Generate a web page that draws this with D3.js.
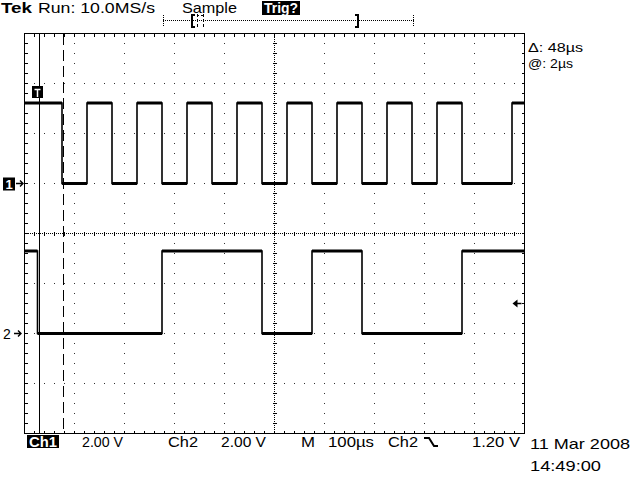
<!DOCTYPE html>
<html><head><meta charset="utf-8">
<script src="https://cdn.jsdelivr.net/npm/d3@7"></script>
<style>
body{margin:0;background:#fff}
svg{display:block}
text{font-family:"Liberation Sans",Arial,sans-serif;fill:#000}
</style>
</head><body>
<svg id="c" width="640" height="480"></svg>
<script>
// ---------------- data ----------------
const timeDomain = [-27, 973];          // µs across 10 divisions (100 µs/div)
const voltsPerDiv = 2.0;
const ch1Offset = 1;                    // ground position, divisions from centre
const ch2Offset = -2;
const ch1Levels = [0, 3.22];            // low, high (V)
const ch2Levels = [0, 3.3];
const ch1StartHigh = true;
const ch1Edges = [48, 98, 148, 198, 248, 298, 348, 398, 448, 498, 548, 598, 648, 698, 748, 798, 848, 948];
const ch2StartHigh = true;
const ch2Edges = [-1, 248, 448, 548, 648, 848];
const cursorTimes = [1, 49];            // solid, dashed (µs)
const trigLevel = 1.20;                 // V on Ch2
const topLabels = ["Tek", "Run: 10.0MS/s", "Sample", "Trig?"];
const bottomLabels = ["Ch1", "2.00 V", "Ch2", "2.00 V", "M", "100\u00b5s", "Ch2", "1.20 V"];
const cursorLabels = ["\u0394: 48\u00b5s", "@: 2\u00b5s"];
const dateLabels = ["11 Mar 2008", "14:49:00"];

// ---------------- scales ----------------
const svg = d3.select("#c");
const L = 24.5, R = 524.5, T = 33.5, B = 433.5;
const X = d3.scaleLinear().domain(timeDomain).range([L, R]);
const Xdiv = d3.scaleLinear().domain([0, 10]).range([L, R]);
const Ydiv = d3.scaleLinear().domain([-4, 4]).range([B, T]);
const vy = (v, off) => Ydiv(v / voltsPerDiv + off);

// ---------------- graticule ----------------
const g = svg.append("g").attr("shape-rendering", "crispEdges");
const dots = [];
for (let k = 1; k < 10; k++) {
  if (k === 5) continue;
  for (let d = 1; d < 40; d++) dots.push([Xdiv(k), Ydiv(-4 + d * 0.2), "#333"]);
}
for (let j = -3; j <= 3; j++) {
  if (j === 0) continue;
  for (let d = 1; d < 50; d++) dots.push([Xdiv(d * 0.2), Ydiv(j), "#333"]);
}
for (let p = L + 2; p < R; p += 2) dots.push([p, Ydiv(0), "#000"]);
for (let p = T + 2; p < B; p += 2) dots.push([Xdiv(5), p, "#000"]);
g.selectAll("rect.dot").data(dots).join("rect").attr("class", "dot")
  .attr("x", d => Math.floor(d[0])).attr("y", d => Math.floor(d[1]))
  .attr("width", 1).attr("height", 1).attr("fill", d => d[2]);

const ticks = [];
for (let d = 1; d < 50; d++) { const x = Xdiv(d * 0.2); ticks.push([x, Ydiv(0) - 2, x, Ydiv(0) + 2]); }
for (let d = 1; d < 40; d++) { const y = Ydiv(-4 + d * 0.2); ticks.push([Xdiv(5) - 2, y, Xdiv(5) + 2, y]); }
for (let d = 1; d < 50; d++) {
  const x = Xdiv(d * 0.2);
  ticks.push([x, T, x, T + 3]); ticks.push([x, B - 3, x, B]);
}
for (let d = 1; d < 40; d++) {
  const y = Ydiv(-4 + d * 0.2);
  ticks.push([L, y, L + 3, y]); ticks.push([R - 3, y, R, y]);
}
g.selectAll("line.tk").data(ticks).join("line").attr("class", "tk")
  .attr("x1", d => d[0]).attr("y1", d => d[1]).attr("x2", d => d[2]).attr("y2", d => d[3])
  .attr("stroke", "#000").attr("stroke-width", 1);
g.append("rect").attr("x", L).attr("y", T).attr("width", R - L).attr("height", B - T)
  .attr("fill", "none").attr("stroke", "#000").attr("stroke-width", 1);

// ---------------- cursors ----------------
svg.append("line").attr("x1", Math.round(X(cursorTimes[0])) + 0.5).attr("x2", Math.round(X(cursorTimes[0])) + 0.5)
  .attr("y1", T).attr("y2", B).attr("stroke", "#000").attr("stroke-width", 1).attr("shape-rendering", "crispEdges");
svg.append("line").attr("x1", Math.round(X(cursorTimes[1])) + 0.5).attr("x2", Math.round(X(cursorTimes[1])) + 0.5)
  .attr("y1", T).attr("y2", B).attr("stroke", "#000").attr("stroke-width", 1)
  .attr("stroke-dasharray", "11,5").attr("shape-rendering", "crispEdges");

// ---------------- traces ----------------
function stepPoints(startHigh, edges, levels, off) {
  let hi = startHigh;
  const pts = [[X(timeDomain[0]), vy(levels[hi ? 1 : 0], off)]];
  const flats = [];
  let prev = timeDomain[0];
  edges.forEach(t => {
    const y0 = vy(levels[hi ? 1 : 0], off);
    flats.push([X(prev), X(t), y0]);
    pts.push([X(t), y0]);
    hi = !hi;
    pts.push([X(t), vy(levels[hi ? 1 : 0], off)]);
    prev = t;
  });
  const yEnd = vy(levels[hi ? 1 : 0], off);
  pts.push([X(timeDomain[1]), yEnd]);
  flats.push([X(prev), X(timeDomain[1]), yEnd]);
  return { pts, flats };
}
const line = d3.line();
[[ch1StartHigh, ch1Edges, ch1Levels, ch1Offset], [ch2StartHigh, ch2Edges, ch2Levels, ch2Offset]].forEach(c => {
  const s = stepPoints(...c);
  svg.append("path").attr("d", line(s.pts)).attr("fill", "none")
    .attr("stroke", "#000").attr("stroke-width", 1.6);
  svg.selectAll(null).data(s.flats).join("line")
    .attr("x1", d => d[0]).attr("x2", d => d[1]).attr("y1", d => d[2]).attr("y2", d => d[2])
    .attr("stroke", "#000").attr("stroke-width", 3);
});

// ---------------- markers ----------------
const tx = X(0);
svg.append("rect").attr("x", tx - 6).attr("y", 86).attr("width", 11).attr("height", 12).attr("fill", "#000");
svg.append("path").attr("d", `M${tx - 3.5},89.5 H${tx + 2.5} M${tx - 0.5},89.5 V97`).attr("stroke", "#fff").attr("stroke-width", 1.5).attr("fill", "none");

const g1 = vy(0, ch1Offset), g2 = vy(0, ch2Offset);
svg.append("rect").attr("x", 3).attr("y", g1 - 6).attr("width", 12).attr("height", 13).attr("fill", "#000");
svg.append("text").attr("x", 9).attr("y", g1 + 5).attr("text-anchor", "middle")
  .style("fill", "#fff").style("font-weight", "bold").style("font-size", "13px").text("1");
svg.append("text").attr("x", 3).attr("y", g2 + 5.5).style("font-size", "14px").text("2");
[g1, g2].forEach((gy, i) => {
  const x0 = i === 0 ? 16 : 14;
  svg.append("path").attr("d", `M${x0},${gy} H${x0 + 7} M${x0 + 4},${gy - 3} L${x0 + 7},${gy} L${x0 + 4},${gy + 3}`)
    .attr("stroke", "#000").attr("stroke-width", 1.4).attr("fill", "none");
});

const ty = vy(trigLevel, ch2Offset);
svg.append("path").attr("d", `M${R - 12},${ty} l5,-4 v8 Z`).attr("fill", "#000");
svg.append("line").attr("x1", R - 8).attr("x2", R - 3).attr("y1", ty).attr("y2", ty).attr("stroke", "#000").attr("stroke-width", 1.5);

// ---------------- record bar ----------------
const rb = svg.append("g").attr("shape-rendering", "crispEdges");
for (let p = 163; p <= 413; p += 2) rb.append("rect").attr("x", p).attr("y", 20).attr("width", 1).attr("height", 1).attr("fill", "#000");
for (let p = 15; p <= 26; p += 2) {
  rb.append("rect").attr("x", 163).attr("y", p).attr("width", 1).attr("height", 1).attr("fill", "#000");
  rb.append("rect").attr("x", 413).attr("y", p).attr("width", 1).attr("height", 1).attr("fill", "#000");
}
rb.append("path").attr("d", "M195,15 H192 V27 H195").attr("stroke", "#000").attr("stroke-width", 2).attr("fill", "none");
rb.append("path").attr("d", "M355,15 H358 V27 H355").attr("stroke", "#000").attr("stroke-width", 2).attr("fill", "none");
rb.append("line").attr("x1", 197.5).attr("x2", 197.5).attr("y1", 14).attr("y2", 29).attr("stroke", "#000").attr("stroke-dasharray", "3,2");
rb.append("line").attr("x1", 203.5).attr("x2", 203.5).attr("y1", 14).attr("y2", 29).attr("stroke", "#000").attr("stroke-dasharray", "3,2");
rb.append("line").attr("x1", 197).attr("x2", 204).attr("y1", 15.5).attr("y2", 15.5).attr("stroke", "#000").attr("stroke-dasharray", "2,2");

// ---------------- texts ----------------
function txt(s, x, y, size, len, opts = {}) {
  const t = svg.append("text").attr("x", x).attr("y", y).style("font-size", size + "px").text(s);
  if (len) t.attr("textLength", len).attr("lengthAdjust", "spacingAndGlyphs");
  if (opts.bold) t.style("font-weight", "bold");
  if (opts.fill) t.style("fill", opts.fill);
  return t;
}
txt(topLabels[0], 1, 13, 15, 31, { bold: true });
txt(topLabels[1], 38, 13, 15, 117);
txt(topLabels[2], 182, 13, 15, 55);
svg.append("rect").attr("x", 262).attr("y", 1).attr("width", 38).attr("height", 14).attr("fill", "#000");
txt(topLabels[3], 264, 13, 14, 34, { bold: true, fill: "#fff" });

svg.append("rect").attr("x", 27).attr("y", 435).attr("width", 32).attr("height", 13).attr("fill", "#000");
txt(bottomLabels[0], 29, 447, 14, 28, { bold: true, fill: "#fff" });
txt(bottomLabels[1], 82, 447, 14, 41);
txt(bottomLabels[2], 168, 447, 14, 30);
txt(bottomLabels[3], 221, 447, 14, 45);
txt(bottomLabels[4], 301, 447, 14, 14);
txt(bottomLabels[5], 328, 447, 14, 46);
txt(bottomLabels[6], 388, 447, 14, 30);
svg.append("path").attr("d", "M424,438 H429 L434,446 H438").attr("stroke", "#000").attr("stroke-width", 2).attr("fill", "none");
txt(bottomLabels[7], 472, 447, 14, 48);

// cursor readouts
txt(cursorLabels[0], 528, 52, 13, 55);
txt(cursorLabels[1], 528, 68, 13, 45);

// date
txt(dateLabels[0], 530, 449, 15, 100);
txt(dateLabels[1], 530, 471, 15, 71);
</script>
</body></html>
